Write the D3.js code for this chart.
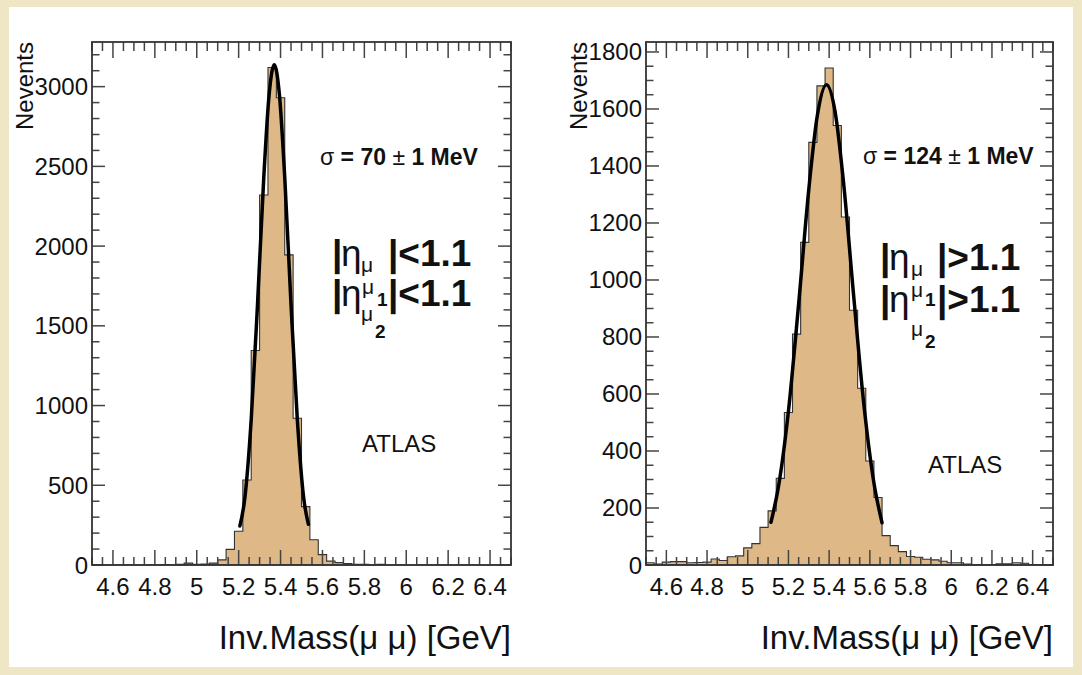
<!DOCTYPE html>
<html>
<head>
<meta charset="utf-8">
<script src="https://cdn.jsdelivr.net/npm/d3@7"></script>
<style>
  body { margin: 0; background: #efe6c6; }
  svg { display: block; }
  text { font-family: "Liberation Sans", Arial, Helvetica, sans-serif; fill: #111; }
</style>
</head>
<body>
<svg id="chart" width="1082" height="675"></svg>
<script>
// Inv. mass of the two muons, 50 bins of 40 MeV between 4.5 and 6.5 GeV
const massRange = [4.5, 6.5];
const binWidth = 0.04;

// |eta| < 1.1 for both muons
const countsBarrel = [
  0, 0, 0, 0, 0, 0, 0, 0, 3, 2,
  5, 12, 5, 6, 12, 32, 98, 212, 533, 1345,
  2320, 3120, 2930, 1945, 920, 366, 158, 65, 24, 15,
  9, 4, 4, 2, 5, 0, 0, 0, 0, 0,
  0, 0, 0, 0, 0, 0, 0, 0, 0, 0
];
// |eta| > 1.1 for both muons
const countsEndcap = [
  8, 3, 10, 12, 12, 8, 9, 10, 21, 16,
  29, 32, 60, 75, 132, 190, 304, 535, 810, 1132,
  1483, 1681, 1744, 1542, 1221, 894, 620, 365, 237, 103,
  68, 47, 30, 27, 20, 18, 13, 8, 8, 3,
  2, 2, 2, 4, 4, 8, 6, 2, 1, 1
];

// gaussian fit curves
const fitBarrelX = [5.206, 5.23, 5.26, 5.29, 5.32, 5.345, 5.37, 5.395, 5.42, 5.45, 5.48, 5.51, 5.533];
const fitBarrelY = [245, 425, 913, 1633, 2431, 2943, 3137, 2943, 2431, 1633, 913, 425, 255];
const fitEndcapX = [5.114, 5.15, 5.20, 5.25, 5.30, 5.34, 5.387, 5.43, 5.47, 5.52, 5.57, 5.62, 5.66];
const fitEndcapY = [150, 271, 540, 915, 1318, 1568, 1685, 1587, 1347, 948, 567, 288, 148];

const massTicks = [4.6, 4.8, 5, 5.2, 5.4, 5.6, 5.8, 6, 6.2, 6.4];
const yTicksBarrel = [0, 500, 1000, 1500, 2000, 2500, 3000];
const yTicksEndcap = [0, 200, 400, 600, 800, 1000, 1200, 1400, 1600, 1800];
const yMaxBarrel = 3280;
const yMaxEndcap = 1835;

const sigmaValues = ["70", "124"];
const etaCuts = ["<1.1", ">1.1"];

const svg = d3.select("#chart");

// white canvas on the beige page
svg.append("rect")
  .attr("x", 9).attr("y", 7)
  .attr("width", 1064).attr("height", 660)
  .attr("fill", "#fff");

const panels = [
  {
    counts: countsBarrel, fitX: fitBarrelX, fitY: fitBarrelY,
    yTicks: yTicksBarrel, yMax: yMaxBarrel, minorCount: 33,
    sigma: sigmaValues[0], cut: etaCuts[0],
    box: { left: 92, right: 511, top: 42, bottom: 565 },
    sigmaPos: [320, 165],
    eta: { x: 332, y1: 266, y2: 306, cutX: 388, mu1: [361, 272], muMid: [362, 294], one: [377, 306], mu2: [361, 321], two: [375, 338] },
    atlas: [362, 452]
  },
  {
    counts: countsEndcap, fitX: fitEndcapX, fitY: fitEndcapY,
    yTicks: yTicksEndcap, yMax: yMaxEndcap, minorCount: 37,
    sigma: sigmaValues[1], cut: etaCuts[1],
    box: { left: 646, right: 1053, top: 42, bottom: 565 },
    sigmaPos: [863, 164],
    eta: { x: 880, y1: 270, y2: 312, cutX: 937, mu1: [911, 276], muMid: [911, 297], one: [925, 306], mu2: [911, 336], two: [925, 348] },
    atlas: [928, 473]
  }
];

panels.forEach(p => {
  const b = p.box;
  const x = d3.scaleLinear().domain(massRange).range([b.left, b.right]);
  const y = d3.scaleLinear().domain([0, p.yMax]).range([b.bottom, b.top]);
  const g = svg.append("g");

  // histogram as a step outline
  const pts = [[x(massRange[0]), y(0)]];
  p.counts.forEach((c, i) => {
    const lo = massRange[0] + i * binWidth;
    pts.push([x(lo), y(c)], [x(lo + binWidth), y(c)]);
  });
  pts.push([x(massRange[1]), y(0)]);

  g.append("path")
    .attr("d", d3.line()(pts) + "Z")
    .attr("fill", "#deb887")
    .attr("stroke", "#333")
    .attr("stroke-width", 1.1);

  // fit
  const fit = p.fitX.map((v, i) => [v, p.fitY[i]]);
  g.append("path")
    .attr("d", d3.line().x(d => x(d[0])).y(d => y(d[1])).curve(d3.curveMonotoneX)(fit))
    .attr("fill", "none")
    .attr("stroke", "#000")
    .attr("stroke-width", 3.5)
    .attr("stroke-linecap", "round");

  // ticks on all four sides
  const tickColor = "#444";
  const minorX = x.ticks(40);
  minorX.forEach(t => {
    const major = massTicks.some(m => Math.abs(m - t) < 1e-6);
    g.append("line")
      .attr("x1", x(t)).attr("x2", x(t))
      .attr("y1", b.bottom).attr("y2", b.bottom - (major ? 15 : 8))
      .attr("stroke", tickColor).attr("stroke-width", 1.5);
    g.append("line")
      .attr("x1", x(t)).attr("x2", x(t))
      .attr("y1", b.top).attr("y2", b.top + (major ? 16 : 9))
      .attr("stroke", tickColor).attr("stroke-width", 1.5);
  });
  const minorY = y.ticks(p.minorCount);
  minorY.forEach(t => {
    const major = p.yTicks.includes(t);
    const len = major ? 13 : 7.5;
    g.append("line")
      .attr("x1", b.left).attr("x2", b.left + len)
      .attr("y1", y(t)).attr("y2", y(t))
      .attr("stroke", tickColor).attr("stroke-width", 1.5);
    g.append("line")
      .attr("x1", b.right).attr("x2", b.right - len)
      .attr("y1", y(t)).attr("y2", y(t))
      .attr("stroke", tickColor).attr("stroke-width", 1.5);
  });

  // frame
  g.append("rect")
    .attr("x", b.left).attr("y", b.top)
    .attr("width", b.right - b.left).attr("height", b.bottom - b.top)
    .attr("fill", "none")
    .attr("stroke", "#333")
    .attr("stroke-width", 1.8);

  // tick labels
  g.selectAll(".xl")
    .data(massTicks)
    .join("text")
    .attr("x", d => x(d))
    .attr("y", b.bottom + 30)
    .attr("text-anchor", "middle")
    .attr("font-size", 24)
    .text(d => d3.format("")(d));

  g.selectAll(".yl")
    .data(p.yTicks)
    .join("text")
    .attr("x", b.left - 4)
    .attr("y", d => y(d) + 8.5)
    .attr("text-anchor", "end")
    .attr("font-size", 24)
    .text(d => d);

  // axis titles
  g.append("text")
    .attr("transform", `translate(${b.left - 59},${b.top}) rotate(-90)`)
    .attr("text-anchor", "end")
    .attr("font-size", 24)
    .text("Nevents");

  g.append("text")
    .attr("x", b.right)
    .attr("y", 649)
    .attr("text-anchor", "end")
    .attr("font-size", 33)
    .text("Inv.Mass(μ μ) [GeV]");

  // resolution
  const s = g.append("text")
    .attr("x", p.sigmaPos[0]).attr("y", p.sigmaPos[1])
    .attr("font-size", 23);
  s.append("tspan").text("σ ");
  s.append("tspan").attr("font-weight", "bold").text("= " + p.sigma + " ");
  s.append("tspan").text("± ");
  s.append("tspan").attr("font-weight", "bold").text("1 MeV");

  // eta cuts
  const e = p.eta;
  [e.y1, e.y2].forEach(yy => {
    g.append("text").attr("x", e.x).attr("y", yy)
      .attr("font-size", 37).attr("font-weight", "bold").text("|");
    g.append("text").attr("x", e.x + 9).attr("y", yy)
      .attr("font-size", 37).text("η");
    g.append("text").attr("x", e.cutX).attr("y", yy)
      .attr("font-size", 37).attr("font-weight", "bold").text("|" + p.cut);
  });
  [e.mu1, e.muMid, e.mu2].forEach(m => {
    g.append("text").attr("x", m[0]).attr("y", m[1])
      .attr("font-size", 21).text("μ");
  });
  g.append("text").attr("x", e.one[0]).attr("y", e.one[1])
    .attr("font-size", 19).attr("font-weight", "bold").text("1");
  g.append("text").attr("x", e.two[0]).attr("y", e.two[1])
    .attr("font-size", 19).attr("font-weight", "bold").text("2");

  g.append("text")
    .attr("x", p.atlas[0]).attr("y", p.atlas[1])
    .attr("font-size", 24)
    .text("ATLAS");
});
</script>
</body>
</html>
